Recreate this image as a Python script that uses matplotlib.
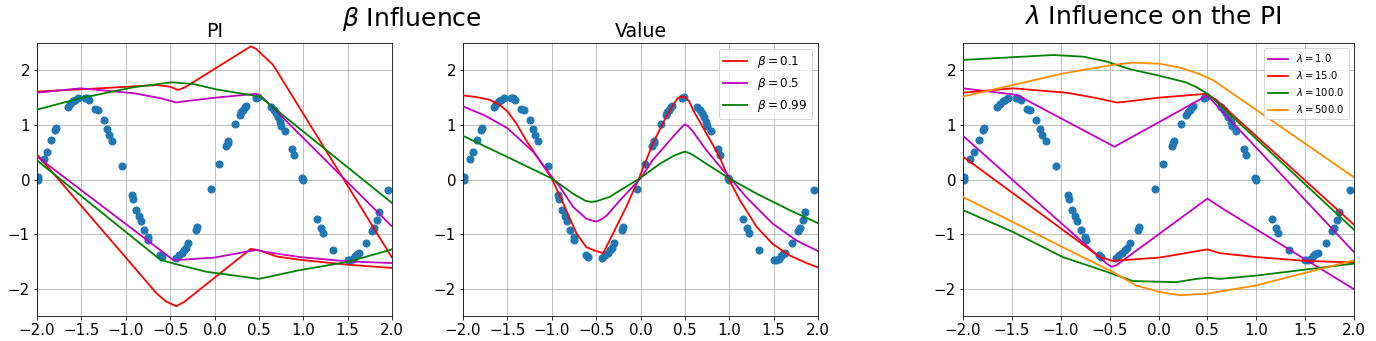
import matplotlib
matplotlib.use("Agg")
import matplotlib.pyplot as plt

# observed samples (same in every panel)
x_pts = [-1.99, -1.99, -1.925, -1.89, -1.84, -1.80, -1.79, -1.65, -1.625, -1.595, -1.57, -1.54,
         -1.46, -1.44, -1.41, -1.35, -1.31, -1.25, -1.21, -1.19, -1.15, -1.045,
         -0.93, -0.92, -0.88, -0.85, -0.83, -0.79, -0.75, -0.745, -0.61, -0.59,
         -0.43, -0.40, -0.37, -0.345, -0.32, -0.295, -0.21, -0.20, -0.04, 0.05,
         0.135, 0.15, 0.155, 0.235, 0.285, 0.30, 0.32, 0.345, 0.355, 0.465, 0.49,
         0.64, 0.665, 0.69, 0.715, 0.74, 0.75, 0.79, 0.875, 0.90, 0.99, 1.0,
         1.157, 1.20, 1.22, 1.34, 1.50, 1.525, 1.555, 1.58, 1.605, 1.63, 1.71,
         1.775, 1.80, 1.83, 1.85, 1.955]
y_pts = [0.05, 0.0, 0.37, 0.51, 0.72, 0.91, 0.94, 1.33, 1.38, 1.43, 1.46, 1.50,
         1.50, 1.49, 1.46, 1.30, 1.27, 1.09, 0.92, 0.81, 0.70, 0.245,
         -0.29, -0.36, -0.55, -0.67, -0.76, -0.92, -1.06, -1.10, -1.39, -1.42,
         -1.43, -1.39, -1.34, -1.30, -1.25, -1.17, -0.92, -0.87, -0.165, 0.28,
         0.61, 0.67, 0.71, 1.01, 1.19, 1.23, 1.27, 1.32, 1.35, 1.49, 1.51,
         1.32, 1.27, 1.21, 1.14, 1.06, 0.98, 0.89, 0.56, 0.45, 0.02, -0.01,
         -0.72, -0.88, -0.98, -1.30, -1.48, -1.48, -1.45, -1.41, -1.37, -1.35, -1.17,
         -0.94, -0.88, -0.75, -0.59, -0.20]

betas = ["0.1", "0.5", "0.99"]
beta_colors = ["r", "m", "g"]

# PI bounds for each beta
pi_up_x = [[-2, -1.29, -0.65, -0.5, -0.41, -0.33, 0.41, 0.47, 0.66, 2],
           [-2, -1.51, -0.91, -0.61, -0.43, -0.35, 0.02, 0.47, 0.55, 2],
           [-2, -1.51, -0.91, -0.48, -0.24, 0.02, 0.51, 2]]
pi_up_y = [[1.61, 1.67, 1.73, 1.70, 1.64, 1.69, 2.44, 2.39, 2.10, -1.43],
           [1.59, 1.67, 1.58, 1.49, 1.41, 1.43, 1.50, 1.57, 1.49, -0.86],
           [1.28, 1.49, 1.69, 1.78, 1.75, 1.65, 1.52, -0.43]]
pi_lo_x = [[-2, -0.65, -0.54, -0.43, -0.34, 0.41, 0.51, 0.70, 0.96, 1.5, 2],
           [-2, -0.46, 0.0, 0.47, 0.59, 0.96, 1.5, 2],
           [-2, -0.61, -0.46, -0.09, 0.5, 0.96, 1.5, 2]]
pi_lo_y = [[0.46, -2.09, -2.24, -2.32, -2.24, -1.27, -1.30, -1.41, -1.47, -1.56, -1.62],
           [0.42, -1.48, -1.43, -1.29, -1.33, -1.42, -1.50, -1.53],
           [0.35, -1.47, -1.54, -1.69, -1.82, -1.66, -1.51, -1.28]]

# value curves for each beta
val_x = [[-2, -1.85, -1.7, -1.6, -1.5, -1.4, -1.29, -1.14, -1.0, -0.87, -0.72, -0.61, -0.5, -0.42,
          -0.31, -0.16, -0.01, 0.14, 0.29, 0.37, 0.42, 0.47, 0.5, 0.55, 0.59, 0.74, 0.89,
          1.0, 1.12, 1.31, 1.49, 1.68, 1.87, 2],
         [-2, -1.75, -1.5, -1.21, -1.0, -0.91, -0.76, -0.61, -0.55, -0.5, -0.45, -0.38, -0.23, 0.0,
          0.14, 0.37, 0.46, 0.5, 0.54, 0.59, 0.74, 0.93, 1.0, 1.19, 1.49, 1.76, 2],
         [-2, -1.51, -1.0, -0.76, -0.62, -0.56, -0.5, -0.35, -0.16, 0.0, 0.22, 0.37, 0.46, 0.5,
          0.54, 0.59, 0.74, 1.0, 1.31, 1.68, 2]]
val_y = [[1.54, 1.51, 1.46, 1.38, 1.25, 1.03, 0.72, 0.36, 0.02, -0.44, -0.99, -1.24, -1.31, -1.35,
          -0.99, -0.5, 0.05, 0.66, 1.15, 1.37, 1.49, 1.52, 1.51, 1.43, 1.28, 0.85, 0.42,
          -0.01, -0.38, -0.87, -1.18, -1.39, -1.53, -1.61],
         [1.34, 1.17, 0.94, 0.51, 0.05, -0.13, -0.5, -0.72, -0.75, -0.77, -0.74, -0.66, -0.38, 0.02,
          0.36, 0.79, 0.95, 1.01, 0.97, 0.88, 0.54, 0.17, 0.05, -0.32, -0.81, -1.12, -1.31],
         [0.8, 0.42, 0.02, -0.26, -0.39, -0.41, -0.40, -0.32, -0.13, 0.03, 0.29, 0.43, 0.49, 0.51,
          0.49, 0.45, 0.29, 0.02, -0.26, -0.56, -0.8]]

lams = ["1.0", "15.0", "100.0", "500.0"]
lam_colors = ["m", "r", "g", "darkorange"]

lam_up_x = [[-2, -1.45, -0.45, -0.4, 0.49, 0.52, 2],
            [-2, -1.49, -0.94, -0.63, -0.43, -0.36, 0.01, 0.49, 0.59, 2],
            [-2, -1.49, -1.08, -0.77, -0.53, -0.29, 0.01, 0.28, 0.39, 0.51, 2],
            [-2, -1.49, -0.98, -0.47, -0.26, 0.01, 0.22, 0.42, 0.56, 2]]
lam_up_y = [[1.67, 1.55, 0.60, 0.65, 1.53, 1.50, -1.33],
            [1.59, 1.67, 1.59, 1.49, 1.41, 1.42, 1.50, 1.57, 1.46, -0.83],
            [2.19, 2.24, 2.28, 2.25, 2.16, 2.02, 1.90, 1.78, 1.69, 1.56, -0.92],
            [1.52, 1.73, 1.94, 2.10, 2.14, 2.12, 2.05, 1.93, 1.82, 0.04]]
lam_lo_x = [[-2, -0.53, -0.48, -0.43, 0.5, 0.68, 2],
            [-2, -0.6, -0.47, 0.01, 0.5, 0.63, 1.0, 1.5, 2],
            [-2, -1.49, -0.98, -0.53, -0.26, 0.18, 0.39, 0.51, 0.63, 1.0, 1.5, 2],
            [-2, -1.49, -0.98, -0.47, -0.23, 0.01, 0.22, 0.5, 1.0, 1.5, 2]]
lam_lo_y = [[0.8, -1.54, -1.60, -1.57, -0.35, -0.56, -2.01],
            [0.42, -1.42, -1.49, -1.43, -1.28, -1.35, -1.42, -1.49, -1.52],
            [-0.56, -0.96, -1.42, -1.69, -1.86, -1.88, -1.82, -1.80, -1.82, -1.76, -1.65, -1.54],
            [-0.32, -0.78, -1.24, -1.69, -1.94, -2.06, -2.12, -2.09, -1.94, -1.71, -1.48]]

xticks = [-2.0, -1.5, -1.0, -0.5, 0.0, 0.5, 1.0, 1.5, 2.0]
yticks = [-2, -1, 0, 1, 2]

fig = plt.figure(figsize=(1376 / 72, 341 / 72), dpi=72)
W, H = 1376, 341


def make_ax(left, right, top=43, bottom=316):
    ax = fig.add_axes([left / W, 1 - bottom / H, (right - left) / W, (bottom - top) / H])
    ax.set_xlim(-2, 2)
    ax.set_ylim(-2.5, 2.5)
    ax.set_xticks(xticks)
    ax.set_yticks(yticks)
    ax.grid(True)
    ax.set_axisbelow(True)
    ax.tick_params(labelsize=15)
    ax.scatter(x_pts, y_pts, s=50, color="tab:blue", zorder=2)
    return ax


ax1 = make_ax(37, 392)
ax2 = make_ax(463, 818)
ax3 = make_ax(963, 1354)

for i, b in enumerate(betas):
    ax1.plot(pi_up_x[i], pi_up_y[i], color=beta_colors[i], lw=1.8, zorder=3)
    ax1.plot(pi_lo_x[i], pi_lo_y[i], color=beta_colors[i], lw=1.8, zorder=3)
    ax2.plot(val_x[i], val_y[i], color=beta_colors[i], lw=1.8, zorder=3, label=r"$\beta=%s$" % b)

for i, l in enumerate(lams):
    ax3.plot(lam_up_x[i], lam_up_y[i], color=lam_colors[i], lw=1.8, zorder=3, label=r"$\lambda=%s$" % l)
    ax3.plot(lam_lo_x[i], lam_lo_y[i], color=lam_colors[i], lw=1.8, zorder=3)

ax1.set_title("PI", fontsize=19)
ax2.set_title("Value", fontsize=19)
ax2.legend(loc="upper right", fontsize=12)
ax3.legend(loc="upper right", fontsize=10)

fig.text(412 / W, 1 - 19 / H, r"$\beta$ Influence", fontsize=25, ha="center", va="center")
fig.text(1153 / W, 1 - 17 / H, r"$\lambda$ Influence on the PI", fontsize=25, ha="center", va="center")

fig.savefig("out.png", dpi=72)
